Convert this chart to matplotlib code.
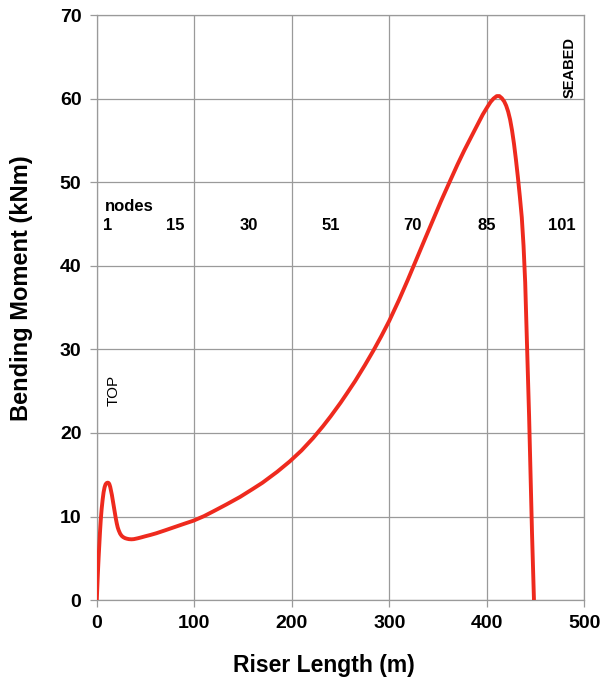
import matplotlib
matplotlib.use("Agg")
import matplotlib.pyplot as plt

plt.rcParams['font.family'] = ['Liberation Sans', 'DejaVu Sans']

# Bending moment along the riser (length in m, moment in kNm)
riser_length = [0, 0.5, 1.0, 1.5, 2.0, 2.6, 3.3, 4.1, 5.0, 6.0, 7.0, 8.0, 9.0,
                10.0, 11.0, 11.6, 12.3, 13.0, 13.8, 14.6, 15.5, 16.5, 17.5,
                18.5, 19.5, 20.5, 21.5, 22.5, 24.0, 25.5, 27.0, 29.0, 31.0,
                33.0, 35.6, 38.0, 42.0, 46.0, 50.0, 55.0, 61.0, 70.0, 80.0,
                90.0, 99.0, 110.0, 120.0, 133.0, 147.0, 160.0, 170.0, 185.0,
                198.0, 210.0, 222.0, 232.0, 240.0, 250.0, 257.0, 265.0,
                275.0, 284.0, 292.0, 300.0, 310.0, 319.0, 328.0, 337.0,
                345.0, 353.0, 363.0, 370.0, 377.0, 383.6, 388.0, 392.0,
                396.0, 400.7, 404.0, 407.0, 410.3, 413.0, 415.5, 418.0,
                420.0, 422.0, 424.0, 426.0, 428.0, 430.0, 432.0, 434.0,
                436.0, 437.8, 439.5, 441.5, 443.5, 445.0, 446.5, 448.5]
bending_moment = [0, 1.4, 2.8, 4.1, 5.3, 6.6, 8.1, 9.6, 10.9, 12.0, 12.9, 13.5,
                  13.85, 14.0, 14.05, 14.05, 14.0, 13.85, 13.55, 13.1, 12.6,
                  11.9, 11.2, 10.5, 9.8, 9.2, 8.7, 8.35, 7.95, 7.7, 7.55, 7.42,
                  7.35, 7.3, 7.28, 7.3, 7.4, 7.52, 7.65, 7.8, 8.0, 8.35, 8.75,
                  9.15, 9.5, 10.05, 10.65, 11.45, 12.35, 13.3, 14.05, 15.35,
                  16.6, 17.9, 19.4, 20.8, 22.0, 23.6, 24.8, 26.2,
                  28.1, 29.9, 31.6, 33.4, 35.9, 38.3, 40.8, 43.3,
                  45.5, 47.7, 50.3, 52.1, 53.8, 55.3, 56.3, 57.2,
                  58.1, 59.0, 59.6, 60.0, 60.3, 60.3, 60.05, 59.65,
                  59.15, 58.45, 57.5, 56.2, 54.6, 52.7, 50.6, 48.3,
                  45.8, 42.4, 38.0, 30.0, 22.0, 15.0, 8.0, 0.0]

# Node numbers marked along the riser
node_labels = ['1', '15', '30', '51', '70', '85', '101']
node_positions = [11.3, 81, 156, 240, 324, 400, 477]

x_ticks = [0, 100, 200, 300, 400, 500]
y_ticks = [0, 10, 20, 30, 40, 50, 60, 70]

fig = plt.figure(figsize=(6.01, 6.82), dpi=100)
ax = fig.add_axes([0.161, 0.12, 0.811, 0.858])

grid_color = '#9a9a9a'
ax.set_xlim(0, 500)
ax.set_ylim(0, 70)
ax.set_xticks(x_ticks)
ax.set_yticks(y_ticks)
ax.grid(True, color=grid_color, linewidth=0.9)
ax.set_axisbelow(True)
for sp in ax.spines.values():
    sp.set_color(grid_color)
    sp.set_linewidth(0.9)
ax.tick_params(axis='both', colors=grid_color, length=5, width=0.9,
               labelcolor='black', labelsize=14, pad=6)
for lbl in ax.get_xticklabels() + ax.get_yticklabels():
    lbl.set_fontweight('bold')

ax.plot(riser_length, bending_moment, color='#ee2a1e', linewidth=2.8,
        solid_joinstyle='round', zorder=3)

ax.set_xlabel('Riser Length (m)', fontsize=16.5, fontweight='bold')
ax.set_ylabel('Bending Moment (kNm)', fontsize=17, fontweight='bold')
ax.xaxis.set_label_coords(0.466, -0.092)
ax.yaxis.set_label_coords(-0.13, 0.533)

ax.text(8, 47.1, 'nodes', fontsize=12, fontweight='bold', ha='left', va='center')
for lab, pos in zip(node_labels, node_positions):
    ax.text(pos, 44.8, lab, fontsize=12, fontweight='bold', ha='center', va='center')

ax.text(17.4, 25.1, 'TOP', fontsize=11, rotation=90, ha='center', va='center')
ax.text(485, 63.7, 'SEABED', fontsize=10.5, fontweight='bold', rotation=90,
        ha='center', va='center')

fig.savefig('out.png', dpi=100)
